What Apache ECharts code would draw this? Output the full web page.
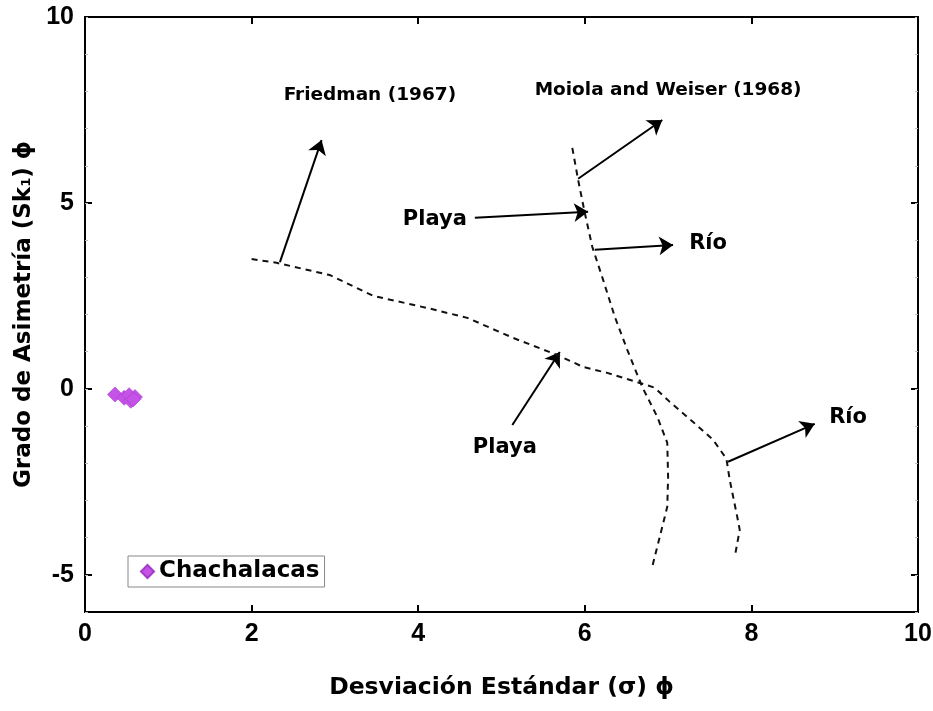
<!DOCTYPE html>
<html>
<head>
<meta charset="utf-8">
<script src="https://cdn.jsdelivr.net/npm/echarts@6/dist/echarts.min.js"></script>
<style>
html, body { margin: 0; padding: 0; background: #fff; }
#chart { width: 933px; height: 711px; }
</style>
</head>
<body>
<div id="chart"></div>
<script>
// sample points
const chachalacas = [[0.36, -0.15], [0.47, -0.24], [0.55, -0.32], [0.60, -0.22], [0.53, -0.17], [0.58, -0.28]];

// boundary curves (dashed)
const friedmanLine = [
  [2.0, 3.49], [2.3, 3.39], [2.94, 3.06], [3.46, 2.5], [4.1, 2.18], [4.59, 1.91],
  [5.14, 1.37], [5.67, 0.91], [5.98, 0.59], [6.27, 0.43], [6.66, 0.16], [6.84, 0.03],
  [7.02, -0.35], [7.3, -0.89], [7.54, -1.37], [7.7, -1.88], [7.74, -2.45],
  [7.83, -3.44], [7.86, -3.79], [7.8, -4.52]
];
const moiolaLine = [
  [5.85, 6.48], [5.92, 5.62], [6.0, 4.73], [6.09, 3.82], [6.22, 2.93], [6.36, 1.94],
  [6.51, 1.05], [6.69, 0.05], [6.87, -0.75], [6.99, -1.45], [7.0, -2.37],
  [6.99, -3.17], [6.9, -3.98], [6.81, -4.78]
];

// annotation arrows: [from, to]
const arrows = [
  [[2.34, 3.41], [2.84, 6.69]],
  [[5.92, 5.65], [6.93, 7.23]],
  [[4.68, 4.6], [6.04, 4.76]],
  [[6.12, 3.74], [7.06, 3.87]],
  [[5.13, -0.97], [5.7, 0.99]],
  [[7.72, -1.96], [8.76, -0.94]]
];

const refLabels = [
  { name: 'Friedman (1967)', value: [3.42, 7.9] },
  { name: 'Moiola and Weiser (1968)', value: [7.0, 8.04] }
];
const zoneLabels = [
  { name: 'Playa', value: [4.2, 4.54] },
  { name: 'Río', value: [7.48, 3.9] },
  { name: 'Playa', value: [5.04, -1.59] },
  { name: 'Río', value: [9.16, -0.78] }
];

const xTicks = [0, 2, 4, 6, 8, 10];
const yTicks = [-5, 0, 5, 10];

const NARROW = '"Liberation Sans Narrow", "Liberation Sans", Arial, sans-serif';
const WIDE = '"DejaVu Sans", "Liberation Sans", sans-serif';

let chart = echarts.init(document.getElementById('chart'));

function yAxisCfg(pos, major) {
  return {
    type: 'value',
    position: pos,
    min: -6,
    max: 10,
    interval: major ? undefined : 1,
    axisLine: { show: major, onZero: false, lineStyle: { color: '#000', width: 2 } },
    axisTick: major
      ? { show: true, inside: true, length: 7, customValues: yTicks, lineStyle: { color: '#000', width: 2 } }
      : { show: true, inside: true, length: 3, lineStyle: { color: '#bbb', width: 1 } },
    axisLabel: (major && pos === 'left')
      ? { show: true, customValues: yTicks, margin: 11, color: '#000', fontFamily: NARROW, fontWeight: 'bold', fontSize: 25 }
      : { show: false },
    splitLine: { show: false }
  };
}

let option = {
  animation: false,
  backgroundColor: '#fff',
  grid: { left: 85, right: 15, top: 17, bottom: 99, outerBoundsMode: 'none' },
  legend: {
    data: ['Chachalacas'],
    left: 128,
    top: 556,
    icon: 'diamond',
    itemWidth: 13,
    itemHeight: 13,
    itemGap: 4,
    padding: [4, 5, 4, 12],
    borderColor: '#888',
    borderWidth: 1,
    textStyle: { color: '#000', fontFamily: WIDE, fontWeight: 'bold', fontSize: 23 }
  },
  xAxis: [
    {
      type: 'value',
      position: 'bottom',
      min: 0,
      max: 10,
      interval: 2,
      name: 'Desviación Estándar (σ) ϕ',
      nameLocation: 'middle',
      nameGap: 64,
      nameTextStyle: { color: '#000', fontFamily: WIDE, fontWeight: 'bold', fontSize: 23.5 },
      axisLine: { onZero: false, lineStyle: { color: '#000', width: 2 } },
      axisTick: { inside: true, length: 7, lineStyle: { color: '#000', width: 2 } },
      axisLabel: { margin: 10, color: '#000', fontFamily: NARROW, fontWeight: 'bold', fontSize: 25 },
      splitLine: { show: false }
    },
    {
      type: 'value',
      position: 'top',
      min: 0,
      max: 10,
      interval: 2,
      axisLine: { onZero: false, lineStyle: { color: '#000', width: 2 } },
      axisTick: { inside: true, length: 7, lineStyle: { color: '#000', width: 2 } },
      axisLabel: { show: false },
      splitLine: { show: false }
    }
  ],
  yAxis: [
    Object.assign(yAxisCfg('left', true), {
      name: '{a|Grado de Asimetría (Sk}{s|1}{a|) ϕ}',
      nameLocation: 'middle',
      nameGap: 43,
      nameTextStyle: {
        rich: {
          a: { color: '#000', fontFamily: WIDE, fontWeight: 'bold', fontSize: 23 },
          s: { color: '#000', fontFamily: WIDE, fontWeight: 'bold', fontSize: 13, padding: [6, 0, 0, 0] }
        }
      }
    }),
    yAxisCfg('left', false),
    yAxisCfg('right', true),
    yAxisCfg('right', false)
  ],
  series: [
    {
      name: 'Friedman',
      type: 'line',
      data: friedmanLine,
      showSymbol: false,
      smooth: false,
      silent: true,
      lineStyle: { color: '#111', width: 2, type: [6, 5] }
    },
    {
      name: 'Moiola',
      type: 'line',
      data: moiolaLine,
      showSymbol: false,
      smooth: false,
      silent: true,
      lineStyle: { color: '#111', width: 2, type: [6, 5] }
    },
    {
      name: 'arrows',
      type: 'lines',
      coordinateSystem: 'cartesian2d',
      polyline: false,
      silent: true,
      symbol: ['none', 'arrow'],
      symbolSize: [9, 14],
      data: arrows.map(a => ({ coords: a })),
      lineStyle: { color: '#000', width: 2, opacity: 1, curveness: 0 }
    },
    {
      name: 'Chachalacas',
      type: 'scatter',
      data: chachalacas,
      symbol: 'diamond',
      symbolSize: 15,
      itemStyle: { color: '#c653e8', borderColor: '#a43cc8', borderWidth: 0.6, opacity: 1 }
    },
    {
      name: 'refLabels',
      type: 'scatter',
      data: refLabels,
      symbolSize: 0,
      silent: true,
      itemStyle: { opacity: 1 },
      label: {
        show: true,
        position: 'inside',
        formatter: p => p.name,
        color: '#000',
        fontFamily: WIDE,
        fontWeight: 'bold',
        fontSize: 18.5
      }
    },
    {
      name: 'zoneLabels',
      type: 'scatter',
      data: zoneLabels,
      symbolSize: 0,
      silent: true,
      itemStyle: { opacity: 1 },
      label: {
        show: true,
        position: 'inside',
        formatter: p => p.name,
        color: '#000',
        fontFamily: WIDE,
        fontWeight: 'bold',
        fontSize: 21
      }
    }
  ]
};

chart.setOption(option);
</script>
</body>
</html>
